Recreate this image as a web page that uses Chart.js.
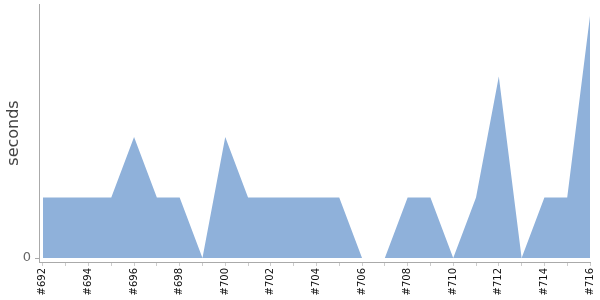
<!DOCTYPE html>
<html><head><meta charset="utf-8">
<script src="https://cdn.jsdelivr.net/npm/chart.js@4"></script>
<style>html,body{margin:0;padding:0;background:#fff}#w{width:600px;height:300px}</style>
</head><body><div id="w"><canvas id="c"></canvas></div>
<script>
const builds = [692,693,694,695,696,697,698,699,700,701,702,703,704,705,706,707,708,709,710,711,712,713,714,715,716];
const seconds = [1,1,1,1,2,1,1,0,2,1,1,1,1,1,0,0,1,1,0,1,3,0,1,1,4];
const yTicks = [0];

const pts = builds.map((b,i)=>({x:b,y:seconds[i]}));
new Chart(document.getElementById('c'),{
  type:'line',
  data:{datasets:[{data:pts,fill:'origin',backgroundColor:'rgb(143,177,218)',borderWidth:0,pointRadius:0,tension:0}]},
  options:{
    responsive:true,maintainAspectRatio:false,animation:false,
    layout:{padding:{top:0,right:0,left:0,bottom:0}},
    plugins:{legend:{display:false},tooltip:{enabled:false}},
    scales:{
      x:{type:'linear',min:691.83,max:716,
        afterBuildTicks:s=>{s.ticks=builds.map(v=>({value:v}));},
        afterFit:s=>{s.height=38;s.paddingRight=10;},
        ticks:{autoSkip:false,maxRotation:90,minRotation:90,padding:2,color:'#111',font:{family:'DejaVu Sans',size:10},
          callback:v=>(v%2===0?'#'+v:'')},
        grid:{drawOnChartArea:false,drawTicks:true,tickLength:4,color:'#ccc'},
        border:{display:true,color:'#aaa'}},
      y:{type:'linear',min:-0.066,max:4.2,
        afterBuildTicks:s=>{s.ticks=yTicks.map(v=>({value:v}));},
        afterFit:s=>{s.width=39;s.paddingTop=4;},
        ticks:{color:'#666',padding:4,font:{family:'DejaVu Sans',size:13}},
        title:{display:true,text:'seconds',color:'#444',padding:{top:4,bottom:0},font:{family:'DejaVu Sans',size:16}},
        grid:{drawOnChartArea:false,drawTicks:true,tickLength:4,color:'#aaa'},
        border:{display:true,color:'#aaa'}}
    }
  }
});
</script></body></html>
